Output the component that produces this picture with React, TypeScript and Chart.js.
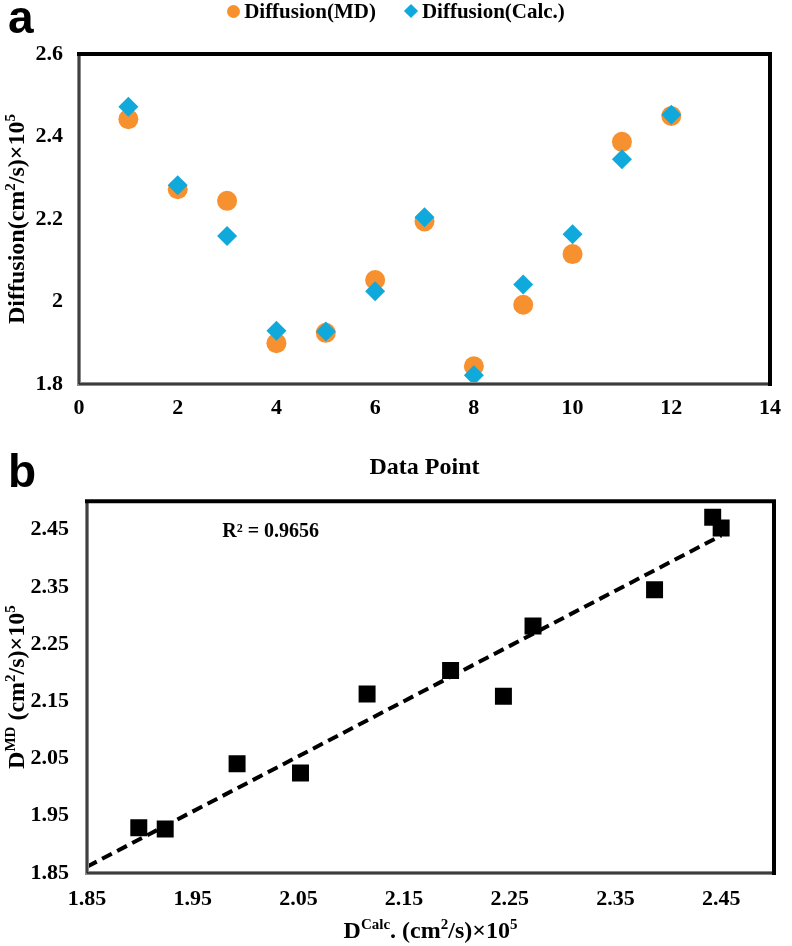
import React, { useEffect, useRef } from "react";
import { Chart, registerables } from "chart.js";

Chart.register(...registerables);

// chart a: one value per data point
const dataPoints = [1, 2, 3, 4, 5, 6, 7, 8, 9, 10, 11, 12];
const diffusionMD = [2.442, 2.272, 2.244, 1.899, 1.924, 2.052, 2.194, 1.843, 1.992, 2.115, 2.387, 2.45];
const diffusionCalc = [2.472, 2.282, 2.159, 1.929, 1.927, 2.025, 2.204, 1.821, 2.041, 2.163, 2.345, 2.453];
const aXTicks = [0, 2, 4, 6, 8, 10, 12, 14];
const aYTicks = [1.8, 2, 2.2, 2.4, 2.6];

// chart b: parity plot, linear trend endpoints
const bTicks = [1.85, 1.95, 2.05, 2.15, 2.25, 2.35, 2.45];
const trendX = [1.85, 2.45];
const trendY = [1.861, 2.44];
const rSquared = "R² = 0.9656";
const rLabelAt = { x: 1.978, y: 2.447 };

const ORANGE = "#F7912F";
const BLUE = "#10A9DC";
const SERIF = "'Liberation Serif', 'Times New Roman', serif";

type Seg = { t: string; sup?: boolean };

const drawRich = (ctx: CanvasRenderingContext2D, segs: Seg[], size: number) => {
  const supSize = Math.round(size * 0.62);
  const fontOf = (s: Seg) => `bold ${s.sup ? supSize : size}px ${SERIF}`;
  let total = 0;
  const widths = segs.map((s) => {
    ctx.font = fontOf(s);
    const w = ctx.measureText(s.t).width;
    total += w;
    return w;
  });
  let x = -total / 2;
  const base = size * 0.33;
  ctx.textAlign = "left";
  ctx.textBaseline = "alphabetic";
  ctx.fillStyle = "#000";
  segs.forEach((s, i) => {
    ctx.font = fontOf(s);
    ctx.fillText(s.t, x, s.sup ? base - size * 0.38 : base);
    x += widths[i];
  });
};

const titlesPlugin = (xSegs: Seg[], xTitleY: number, ySegs: Seg[], yTitleX: number) => ({
  id: "richTitles",
  afterDraw(chart: Chart) {
    const { ctx, chartArea } = chart;
    ctx.save();
    ctx.translate((chartArea.left + chartArea.right) / 2, xTitleY);
    drawRich(ctx, xSegs, 24);
    ctx.restore();
    ctx.save();
    ctx.translate(yTitleX, (chartArea.top + chartArea.bottom) / 2);
    ctx.rotate(-Math.PI / 2);
    drawRich(ctx, ySegs, 24);
    ctx.restore();
  },
});

const framePlugin = {
  id: "frame",
  afterDatasetsDraw(chart: Chart) {
    const { ctx } = chart;
    const { left, top, right, bottom } = chart.chartArea;
    const line = (x1: number, y1: number, x2: number, y2: number) => {
      ctx.beginPath();
      ctx.moveTo(x1, y1);
      ctx.lineTo(x2, y2);
      ctx.stroke();
    };
    ctx.save();
    ctx.strokeStyle = "#8a8a8a";
    ctx.lineWidth = 4;
    line(left, top, left, bottom + 2);
    line(left - 2, bottom, right, bottom);
    ctx.strokeStyle = "#222";
    ctx.lineWidth = 1.4;
    line(left, top, left, bottom);
    line(left, bottom, right, bottom);
    ctx.strokeStyle = "#000";
    ctx.lineWidth = 4;
    line(left - 2, top, right + 2, top);
    line(right, top, right, bottom + 2);
    ctx.restore();
  },
};

const rLabelPlugin = {
  id: "rLabel",
  afterDraw(chart: Chart) {
    const { ctx, scales } = chart;
    ctx.save();
    ctx.font = `bold 20px ${SERIF}`;
    ctx.fillStyle = "#000";
    ctx.textAlign = "left";
    ctx.textBaseline = "middle";
    ctx.fillText(rSquared, scales.x.getPixelForValue(rLabelAt.x), scales.y.getPixelForValue(rLabelAt.y));
    ctx.restore();
  },
};

const tickFont = { family: SERIF, size: 22, weight: "bold" as const };

const App: React.FC = () => {
  const refA = useRef<HTMLCanvasElement | null>(null);
  const refB = useRef<HTMLCanvasElement | null>(null);

  useEffect(() => {
    if (!refA.current || !refB.current) return;

    const chartA = new Chart(refA.current, {
      type: "scatter",
      data: {
        datasets: [
          {
            label: "Diffusion(MD)",
            data: dataPoints.map((x, i) => ({ x, y: diffusionMD[i] })),
            pointStyle: "circle",
            pointRadius: 10,
            pointBackgroundColor: ORANGE,
            pointBorderWidth: 0,
            order: 1,
          },
          {
            label: "Diffusion(Calc.)",
            data: dataPoints.map((x, i) => ({ x, y: diffusionCalc[i] })),
            pointStyle: "rectRot",
            pointRadius: 10,
            pointBackgroundColor: BLUE,
            pointBorderWidth: 0,
            order: 0,
          },
        ],
      },
      options: {
        responsive: true,
        maintainAspectRatio: false,
        animation: false,
        events: [],
        layout: { padding: { top: 54, right: 13, left: 0, bottom: 0 } },
        plugins: { legend: { display: false }, tooltip: { enabled: false } },
        scales: {
          x: {
            type: "linear",
            min: 0,
            max: 14,
            grid: { display: false, drawTicks: false },
            border: { display: false },
            ticks: { font: tickFont, color: "#000", padding: 11, callback: (v) => String(v) },
            afterBuildTicks: (s) => {
              s.ticks = aXTicks.map((value) => ({ value }));
            },
            afterFit: (s) => {
              s.height = 106;
            },
          },
          y: {
            min: 1.8,
            max: 2.6,
            grid: { display: false, drawTicks: false },
            border: { display: false },
            ticks: { font: tickFont, color: "#000", padding: 16, callback: (v) => String(v) },
            afterBuildTicks: (s) => {
              s.ticks = aYTicks.map((value) => ({ value }));
            },
            afterFit: (s) => {
              s.width = 79;
            },
          },
        },
      },
      plugins: [
        framePlugin,
        titlesPlugin(
          [{ t: "Data Point" }],
          466,
          [{ t: "Diffusion(cm" }, { t: "2", sup: true }, { t: "/s)×10" }, { t: "5", sup: true }],
          16
        ),
      ],
    });

    const chartB = new Chart(refB.current, {
      type: "scatter",
      data: {
        datasets: [
          {
            label: "points",
            data: diffusionMD.map((x, i) => ({ x, y: diffusionCalc[i] })),
            pointStyle: "rect",
            pointRadius: 12,
            pointBackgroundColor: "#000",
            pointBorderWidth: 0,
            clip: 0,
          },
          {
            label: "trend",
            type: "line",
            data: trendX.map((x, i) => ({ x, y: trendY[i] })),
            borderColor: "#000",
            borderWidth: 4,
            borderDash: [11, 6],
            pointRadius: 0,
            clip: 0,
          },
        ],
      },
      options: {
        responsive: true,
        maintainAspectRatio: false,
        animation: false,
        events: [],
        layout: { padding: { top: 23, right: 18, left: 0, bottom: 0 } },
        plugins: { legend: { display: false }, tooltip: { enabled: false } },
        scales: {
          x: {
            type: "linear",
            min: 1.85,
            max: 2.5,
            grid: { display: false, drawTicks: false },
            border: { display: false },
            ticks: { font: tickFont, color: "#000", padding: 13, callback: (v) => Number(v).toFixed(2) },
            afterBuildTicks: (s) => {
              s.ticks = bTicks.map((value) => ({ value }));
            },
            afterFit: (s) => {
              s.height = 73;
            },
          },
          y: {
            min: 1.85,
            max: 2.5,
            grid: { display: false, drawTicks: false },
            border: { display: false },
            ticks: { font: tickFont, color: "#000", padding: 18, callback: (v) => Number(v).toFixed(2) },
            afterBuildTicks: (s) => {
              s.ticks = bTicks.map((value) => ({ value }));
            },
            afterFit: (s) => {
              s.width = 87;
            },
          },
        },
      },
      plugins: [
        framePlugin,
        rLabelPlugin,
        titlesPlugin(
          [{ t: "D" }, { t: "Calc", sup: true }, { t: ". (cm" }, { t: "2", sup: true }, { t: "/s)×10" }, { t: "5", sup: true }],
          460,
          [{ t: "D" }, { t: "MD", sup: true }, { t: " (cm" }, { t: "2", sup: true }, { t: "/s)×10" }, { t: "5", sup: true }],
          16
        ),
      ],
    });

    return () => {
      chartA.destroy();
      chartB.destroy();
    };
  }, []);

  const letter: React.CSSProperties = {
    position: "absolute",
    left: 8,
    fontFamily: "'Liberation Sans', Arial, sans-serif",
    fontWeight: "bold",
    fontSize: 46,
    lineHeight: "46px",
  };

  return (
    <div style={{ position: "absolute", left: 0, top: 0, width: 792, height: 946, background: "#fff" }}>
      <div style={{ position: "absolute", left: 0, top: 0, width: 792, height: 490 }}>
        <canvas ref={refA} />
      </div>
      <div style={{ position: "absolute", left: 0, top: 470, width: 792, height: 476 }}>
        <canvas ref={refB} />
      </div>

      {/* panel letters */}
      <div style={{ ...letter, top: -6 }}>a</div>
      <div style={{ ...letter, top: 448 }}>b</div>

      {/* Legend for chart a */}
      <div
        style={{
          position: "absolute",
          left: 0,
          top: 0,
          width: 792,
          display: "flex",
          justifyContent: "center",
          alignItems: "center",
          fontFamily: SERIF,
          fontWeight: "bold",
          fontSize: 21,
          lineHeight: "22px",
        }}
      >
        <span
          style={{ display: "inline-block", width: 13, height: 13, borderRadius: "50%", background: ORANGE, marginRight: 4 }}
        ></span>
        Diffusion(MD)
        <span
          style={{
            display: "inline-block",
            width: 10,
            height: 10,
            background: BLUE,
            transform: "rotate(45deg)",
            marginLeft: 30,
            marginRight: 6,
          }}
        ></span>
        Diffusion(Calc.)
      </div>
    </div>
  );
};

export default App;
